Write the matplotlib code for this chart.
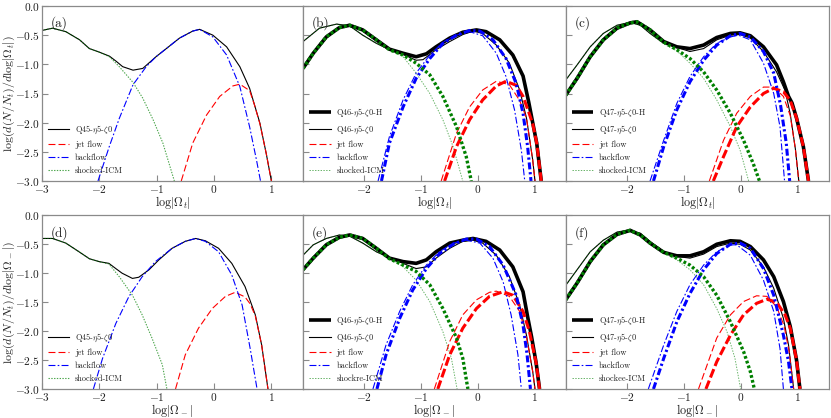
import matplotlib
matplotlib.use("Agg")
import matplotlib.pyplot as plt

# ---------------- data ----------------
# Panel (a): log|Omega_t|, Q45
a_total = [(-3.0,-0.42),(-2.81,-0.38),(-2.58,-0.44),(-2.34,-0.58),(-2.17,-0.73),(-2.0,-0.79),(-1.82,-0.86),(-1.70,-0.95),(-1.59,-1.04),(-1.41,-1.10),(-1.24,-1.07),(-1.01,-0.87),(-0.83,-0.73),(-0.60,-0.55),(-0.37,-0.43),(-0.25,-0.40),(-0.02,-0.50),(0.22,-0.70),(0.45,-1.04),(0.62,-1.41),(0.80,-2.01),(0.91,-2.53),(1.0,-3.0)]
a_jet = [(-0.57,-3.0),(-0.37,-2.35),(-0.13,-1.87),(0.10,-1.55),(0.33,-1.37),(0.45,-1.34),(0.62,-1.45),(0.70,-1.68),(0.80,-2.02),(0.91,-2.53),(1.0,-3.0)]
a_back = [(-2.02,-3.0),(-1.82,-2.40),(-1.65,-1.93),(-1.41,-1.35),(-1.18,-1.04),(-1.01,-0.87),(-0.83,-0.73),(-0.60,-0.55),(-0.37,-0.43),(-0.25,-0.40),(-0.02,-0.53),(0.22,-0.84),(0.45,-1.38),(0.62,-2.07),(0.74,-2.64),(0.81,-3.0)]
a_icm = [(-3.0,-0.42),(-2.81,-0.38),(-2.58,-0.44),(-2.34,-0.58),(-2.17,-0.73),(-2.0,-0.79),(-1.82,-0.87),(-1.65,-1.04),(-1.41,-1.31),(-1.24,-1.58),(-1.06,-1.95),(-0.89,-2.35),(-0.69,-3.0)]

# Panel (b): Q46
b_tot_H = [(-3.07,-1.07),(-2.89,-0.81),(-2.66,-0.53),(-2.43,-0.37),(-2.25,-0.33),(-2.02,-0.41),(-1.78,-0.58),(-1.55,-0.74),(-1.31,-0.81),(-1.08,-0.87),(-0.90,-0.82),(-0.73,-0.70),(-0.49,-0.55),(-0.26,-0.45),(-0.02,-0.41),(0.15,-0.44),(0.39,-0.58),(0.62,-0.84),(0.80,-1.20),(0.90,-1.65),(0.97,-2.0),(1.04,-2.35),(1.12,-3.0)]
b_tot = [(-3.07,-0.61),(-2.78,-0.38),(-2.48,-0.31),(-2.25,-0.34),(-2.02,-0.50),(-1.78,-0.64),(-1.55,-0.75),(-1.31,-0.83),(-1.08,-0.93),(-0.96,-0.92),(-0.73,-0.75),(-0.49,-0.61),(-0.26,-0.49),(-0.08,-0.43),(0.09,-0.47),(0.33,-0.67),(0.56,-0.98),(0.74,-1.44),(0.86,-1.92),(0.97,-2.64),(1.01,-3.0)]
b_jet = [(-0.64,-3.0),(-0.37,-2.18),(-0.14,-1.73),(0.09,-1.44),(0.33,-1.29),(0.56,-1.35),(0.74,-1.62),(0.86,-1.92),(0.97,-2.64),(1.01,-3.0)]
b_jet_H = [(-0.58,-3.0),(-0.37,-2.41),(-0.14,-1.95),(0.09,-1.61),(0.33,-1.37),(0.50,-1.29),(0.68,-1.36),(0.80,-1.55),(0.90,-1.82),(0.97,-2.02),(1.04,-2.35),(1.12,-3.0)]
b_back = [(-1.75,-3.0),(-1.55,-2.24),(-1.31,-1.61),(-1.08,-1.15),(-0.84,-0.84),(-0.61,-0.62),(-0.37,-0.50),(-0.14,-0.44),(0.09,-0.51),(0.33,-0.81),(0.50,-1.21),(0.65,-1.78),(0.77,-2.47),(0.83,-3.0)]
b_back_H = [(-1.69,-3.0),(-1.55,-2.35),(-1.31,-1.73),(-1.08,-1.24),(-0.84,-0.90),(-0.61,-0.64),(-0.37,-0.50),(-0.14,-0.42),(0.04,-0.43),(0.27,-0.58),(0.50,-0.90),(0.68,-1.33),(0.80,-1.84),(0.88,-2.41),(0.94,-3.0)]
b_icm = [(-3.07,-0.61),(-2.78,-0.38),(-2.48,-0.31),(-2.25,-0.34),(-2.02,-0.50),(-1.78,-0.64),(-1.55,-0.75),(-1.31,-0.87),(-1.08,-1.15),(-0.84,-1.50),(-0.61,-1.95),(-0.43,-2.41),(-0.26,-3.0)]
b_icm_H = [(-3.07,-1.07),(-2.89,-0.81),(-2.66,-0.53),(-2.43,-0.37),(-2.25,-0.33),(-2.02,-0.41),(-1.78,-0.58),(-1.55,-0.75),(-1.31,-0.84),(-1.08,-0.98),(-0.84,-1.18),(-0.61,-1.55),(-0.37,-2.07),(-0.20,-2.58),(-0.11,-3.0)]

# Panel (c): Q47
c_tot_H = [(-3.07,-1.53),(-2.87,-1.24),(-2.64,-0.87),(-2.41,-0.58),(-2.17,-0.38),(-1.94,-0.29),(-1.82,-0.27),(-1.59,-0.41),(-1.35,-0.61),(-1.12,-0.70),(-0.89,-0.73),(-0.65,-0.67),(-0.42,-0.54),(-0.18,-0.47),(-0.01,-0.46),(0.17,-0.51),(0.40,-0.70),(0.63,-1.01),(0.75,-1.30),(0.84,-1.55),(0.90,-1.66),(0.98,-1.92),(1.10,-2.41),(1.19,-3.0)]
c_tot = [(-3.07,-1.27),(-2.87,-1.01),(-2.64,-0.70),(-2.41,-0.47),(-2.17,-0.33),(-1.94,-0.28),(-1.76,-0.33),(-1.59,-0.47),(-1.35,-0.64),(-1.12,-0.71),(-0.89,-0.78),(-0.65,-0.73),(-0.42,-0.58),(-0.18,-0.50),(-0.01,-0.49),(0.17,-0.55),(0.40,-0.78),(0.63,-1.13),(0.78,-1.45),(0.87,-1.85),(0.96,-2.45),(1.02,-3.0)]
c_jet = [(-0.55,-3.0),(-0.30,-2.30),(-0.07,-1.84),(0.17,-1.55),(0.40,-1.39),(0.58,-1.39),(0.75,-1.55),(0.87,-1.88),(0.96,-2.45),(1.02,-3.0)]
c_jet_H = [(-0.48,-3.0),(-0.30,-2.58),(-0.07,-2.07),(0.17,-1.73),(0.40,-1.50),(0.58,-1.41),(0.75,-1.47),(0.87,-1.62),(0.98,-1.92),(1.10,-2.41),(1.19,-3.0)]
c_back = [(-1.59,-3.0),(-1.35,-2.30),(-1.12,-1.67),(-0.89,-1.21),(-0.65,-0.87),(-0.42,-0.64),(-0.18,-0.53),(-0.04,-0.50),(0.17,-0.58),(0.40,-0.98),(0.58,-1.50),(0.69,-2.07),(0.77,-3.0)]
c_back_H = [(-1.53,-3.0),(-1.35,-2.41),(-1.12,-1.78),(-0.89,-1.30),(-0.65,-0.93),(-0.42,-0.67),(-0.18,-0.51),(-0.01,-0.47),(0.17,-0.53),(0.40,-0.78),(0.58,-1.15),(0.70,-1.70),(0.80,-2.35),(0.86,-3.0)]
c_icm = [(-3.07,-1.27),(-2.87,-1.01),(-2.64,-0.70),(-2.41,-0.47),(-2.17,-0.33),(-1.94,-0.28),(-1.76,-0.33),(-1.59,-0.47),(-1.35,-0.65),(-1.12,-0.77),(-0.89,-0.98),(-0.65,-1.24),(-0.42,-1.61),(-0.18,-2.07),(-0.01,-2.47),(0.14,-3.0)]
c_icm_H = [(-3.07,-1.53),(-2.87,-1.24),(-2.64,-0.87),(-2.41,-0.58),(-2.17,-0.38),(-1.94,-0.29),(-1.82,-0.27),(-1.59,-0.41),(-1.35,-0.62),(-1.12,-0.75),(-0.89,-0.90),(-0.65,-1.13),(-0.42,-1.44),(-0.18,-1.84),(0.05,-2.30),(0.22,-2.70),(0.33,-3.0)]

# Panel (d): log|Omega_-|, Q45
d_total = [(-3.0,-0.40),(-2.81,-0.40),(-2.58,-0.48),(-2.35,-0.63),(-2.17,-0.75),(-2.0,-0.80),(-1.83,-0.83),(-1.71,-0.92),(-1.60,-1.00),(-1.42,-1.09),(-1.31,-1.07),(-1.13,-0.94),(-0.96,-0.77),(-0.73,-0.57),(-0.50,-0.45),(-0.32,-0.40),(-0.15,-0.44),(0.08,-0.57),(0.31,-0.83),(0.54,-1.23),(0.72,-1.72),(0.83,-2.24),(0.94,-3.0)]
d_jet = [(-0.67,-3.0),(-0.50,-2.41),(-0.27,-1.95),(-0.03,-1.61),(0.20,-1.40),(0.37,-1.33),(0.54,-1.41),(0.63,-1.53),(0.72,-1.74),(0.83,-2.24),(0.94,-3.0)]
d_back = [(-2.10,-3.0),(-1.94,-2.47),(-1.71,-1.87),(-1.48,-1.40),(-1.25,-1.06),(-1.02,-0.80),(-0.73,-0.57),(-0.50,-0.45),(-0.32,-0.40),(-0.15,-0.45),(0.08,-0.63),(0.31,-1.03),(0.49,-1.55),(0.63,-2.30),(0.75,-3.0)]
d_icm = [(-3.0,-0.40),(-2.81,-0.40),(-2.58,-0.48),(-2.35,-0.63),(-2.17,-0.75),(-2.0,-0.80),(-1.83,-0.84),(-1.65,-1.06),(-1.42,-1.38),(-1.25,-1.72),(-1.08,-2.12),(-0.90,-2.58),(-0.82,-3.0)]

# Panel (e): Q46
e_tot_H = [(-3.07,-0.94),(-2.89,-0.74),(-2.66,-0.51),(-2.43,-0.38),(-2.25,-0.34),(-2.02,-0.40),(-1.78,-0.57),(-1.55,-0.74),(-1.31,-0.80),(-1.08,-0.83),(-0.90,-0.77),(-0.73,-0.63),(-0.49,-0.48),(-0.26,-0.43),(-0.08,-0.40),(0.15,-0.45),(0.39,-0.60),(0.62,-0.89),(0.80,-1.32),(0.88,-1.75),(0.95,-2.10),(1.03,-2.55),(1.09,-3.0)]
e_tot = [(-3.07,-0.69),(-2.89,-0.51),(-2.66,-0.40),(-2.43,-0.34),(-2.25,-0.36),(-2.02,-0.48),(-1.78,-0.63),(-1.55,-0.73),(-1.31,-0.83),(-1.08,-0.92),(-0.90,-0.89),(-0.73,-0.74),(-0.49,-0.57),(-0.26,-0.45),(-0.08,-0.43),(0.09,-0.48),(0.33,-0.69),(0.56,-1.06),(0.74,-1.55),(0.86,-2.07),(0.97,-2.70),(1.01,-3.0)]
e_jet = [(-0.76,-3.0),(-0.49,-2.18),(-0.26,-1.72),(-0.02,-1.46),(0.21,-1.33),(0.33,-1.31),(0.56,-1.40),(0.74,-1.66),(0.86,-2.10),(0.97,-2.70),(1.01,-3.0)]
e_jet_H = [(-0.70,-3.0),(-0.49,-2.41),(-0.26,-1.95),(-0.02,-1.61),(0.21,-1.40),(0.45,-1.32),(0.62,-1.38),(0.80,-1.66),(0.91,-2.0),(1.03,-2.55),(1.09,-3.0)]
e_back = [(-1.84,-3.0),(-1.61,-2.24),(-1.37,-1.66),(-1.14,-1.20),(-0.90,-0.86),(-0.67,-0.63),(-0.43,-0.48),(-0.20,-0.43),(0.04,-0.48),(0.27,-0.74),(0.45,-1.15),(0.59,-1.72),(0.71,-2.41),(0.77,-3.0)]
e_back_H = [(-1.77,-3.0),(-1.61,-2.41),(-1.37,-1.78),(-1.14,-1.29),(-0.90,-0.92),(-0.67,-0.66),(-0.43,-0.50),(-0.20,-0.41),(-0.02,-0.41),(0.21,-0.54),(0.45,-0.86),(0.68,-1.38),(0.80,-1.90),(0.87,-2.40),(0.93,-3.0)]
e_icm = [(-3.07,-0.69),(-2.89,-0.51),(-2.66,-0.40),(-2.43,-0.34),(-2.25,-0.36),(-2.02,-0.48),(-1.78,-0.63),(-1.55,-0.73),(-1.31,-0.89),(-1.08,-1.12),(-0.84,-1.49),(-0.61,-2.01),(-0.46,-2.47),(-0.36,-3.0)]
e_icm_H = [(-3.07,-0.94),(-2.89,-0.74),(-2.66,-0.51),(-2.43,-0.38),(-2.25,-0.34),(-2.02,-0.40),(-1.78,-0.57),(-1.55,-0.75),(-1.31,-0.86),(-1.08,-0.97),(-0.84,-1.20),(-0.61,-1.61),(-0.37,-2.12),(-0.26,-2.47),(-0.17,-3.0)]

# Panel (f): Q47
f_tot_H = [(-3.07,-1.46),(-2.87,-1.17),(-2.64,-0.80),(-2.41,-0.51),(-2.17,-0.33),(-1.94,-0.26),(-1.76,-0.34),(-1.59,-0.48),(-1.35,-0.64),(-1.12,-0.70),(-0.89,-0.70),(-0.65,-0.63),(-0.42,-0.50),(-0.18,-0.44),(-0.01,-0.45),(0.17,-0.54),(0.40,-0.77),(0.58,-1.06),(0.75,-1.49),(0.87,-1.92),(0.98,-2.50),(1.04,-3.0)]
f_tot = [(-3.07,-1.21),(-2.87,-0.94),(-2.64,-0.63),(-2.41,-0.43),(-2.17,-0.29),(-2.0,-0.26),(-1.76,-0.31),(-1.59,-0.45),(-1.35,-0.63),(-1.12,-0.71),(-0.89,-0.74),(-0.65,-0.67),(-0.42,-0.54),(-0.18,-0.48),(-0.01,-0.50),(0.17,-0.60),(0.40,-0.89),(0.58,-1.26),(0.75,-1.78),(0.84,-2.24),(0.93,-3.0)]
f_jet = [(-0.74,-3.0),(-0.42,-2.12),(-0.18,-1.72),(0.05,-1.49),(0.28,-1.39),(0.46,-1.40),(0.63,-1.58),(0.76,-1.90),(0.85,-2.35),(0.93,-3.0)]
f_jet_H = [(-0.61,-3.0),(-0.42,-2.53),(-0.18,-2.07),(0.05,-1.72),(0.28,-1.52),(0.46,-1.45),(0.63,-1.50),(0.78,-1.72),(0.87,-1.95),(0.98,-2.50),(1.04,-3.0)]
f_back = [(-1.62,-3.0),(-1.35,-2.24),(-1.12,-1.66),(-0.89,-1.20),(-0.65,-0.86),(-0.42,-0.63),(-0.18,-0.51),(-0.07,-0.51),(0.17,-0.69),(0.40,-1.12),(0.58,-1.66),(0.69,-2.30),(0.75,-3.0)]
f_back_H = [(-1.53,-3.0),(-1.35,-2.47),(-1.12,-1.84),(-0.89,-1.35),(-0.65,-0.94),(-0.42,-0.66),(-0.18,-0.50),(-0.01,-0.48),(0.17,-0.57),(0.40,-0.92),(0.58,-1.38),(0.75,-2.07),(0.84,-2.53),(0.90,-3.0)]
f_icm = [(-3.07,-1.21),(-2.87,-0.94),(-2.64,-0.63),(-2.41,-0.43),(-2.17,-0.29),(-2.0,-0.26),(-1.76,-0.31),(-1.59,-0.45),(-1.35,-0.63),(-1.12,-0.77),(-0.89,-0.94),(-0.65,-1.20),(-0.42,-1.61),(-0.24,-2.01),(-0.10,-2.47),(0.0,-3.0)]
f_icm_H = [(-3.07,-1.46),(-2.87,-1.17),(-2.64,-0.80),(-2.41,-0.51),(-2.17,-0.33),(-1.94,-0.26),(-1.76,-0.34),(-1.59,-0.48),(-1.35,-0.64),(-1.12,-0.74),(-0.89,-0.86),(-0.65,-1.06),(-0.42,-1.38),(-0.18,-1.84),(0.05,-2.35),(0.17,-2.70),(0.24,-3.0)]

panel_letters = ["(a)", "(b)", "(c)", "(d)", "(e)", "(f)"]
yticks = [0.0, -0.5, -1.0, -1.5, -2.0, -2.5, -3.0]
xticks_first = [-3, -2, -1, 0, 1]
xticks_other = [-2, -1, 0, 1]
icm_label_top = "shocked-ICM"
icm_label_e = "shockre-ICM"
icm_label_f = "shockee-ICM"

# ---------------- style ----------------
plt.rcParams["font.family"] = ["cmr10", "DejaVu Serif"]
plt.rcParams["mathtext.fontset"] = "cm"
plt.rcParams["axes.unicode_minus"] = False
plt.rcParams["lines.scale_dashes"] = False

SPINE = "#8a8a8a"
TXT = "#222222"
fig = plt.figure(figsize=(8.31, 4.18), dpi=100)
W, H = 831.0, 418.0
lefts = [41.7, 303.0, 565.7]
widths = [261.3, 262.7, 263.3]
row_top = (6.0, 181.0)
row_bot = (215.3, 389.0)

def xy(pts):
    return [p[0] for p in pts], [p[1] for p in pts]

def fmt(v, nd):
    s = f"{abs(v):.{nd}f}"
    return f"$-{s}$" if v < 0 else f"${s}$"

def make_ax(col, row):
    t, b = row
    ax = fig.add_axes([lefts[col] / W, 1 - b / H, widths[col] / W, (b - t) / H])
    for s in ax.spines.values():
        s.set_color(SPINE)
        s.set_linewidth(0.9)
    ax.tick_params(direction="in", length=4, width=0.8, color=SPINE,
                   labelsize=8.2, pad=1.5, labelcolor=TXT)
    ax.set_ylim(-3.0, 0.0)
    ax.set_yticks(yticks)
    if col == 0:
        ax.set_xlim(-3.0, 1.55)
        ax.set_xticks(xticks_first)
        ax.set_xticklabels([fmt(v, 0) for v in xticks_first])
        ax.set_yticklabels([fmt(v, 1) for v in yticks])
    else:
        ax.set_xlim(-3.07, 1.55)
        ax.set_xticks(xticks_other)
        ax.set_xticklabels([fmt(v, 0) for v in xticks_other])
        ax.set_yticklabels([])
    return ax

RED_D = (0, (5, 2.2))
RED_DH = (0, (6.5, 2.4))
BLU_D = (0, (5, 1.6, 1.2, 1.6))
BLU_DH = (0, (5, 2.0, 1.6, 2.0))
GRN_D = (0, (1.0, 1.0))
GRN_DH = (0, (2.0, 1.6))

def single_panel(ax, total, jet, back, icm, name):
    ax.plot(*xy(total), color="k", lw=0.8, label=name)
    ax.plot(*xy(jet), color="r", lw=0.8, ls=RED_D, label="jet flow")
    ax.plot(*xy(back), color="b", lw=0.8, ls=BLU_D, label="backflow")
    ax.plot(*xy(icm), color="g", lw=0.8, ls=GRN_D, alpha=0.7, label="shocked-ICM")

def double_panel(ax, totH, tot, jet, jetH, back, backH, icm, icmH, name, icm_label):
    ax.plot(*xy(totH), color="k", lw=2.6, solid_capstyle="butt", label=name + "-H")
    ax.plot(*xy(tot), color="k", lw=0.8, label=name)
    ax.plot(*xy(jet), color="r", lw=0.8, ls=RED_D, label="jet flow")
    ax.plot(*xy(back), color="b", lw=0.8, ls=BLU_D, label="backflow")
    ax.plot(*xy(icm), color="g", lw=0.7, ls=GRN_D, alpha=0.6, label=icm_label)
    ax.plot(*xy(jetH), color="r", lw=2.2, ls=RED_DH)
    ax.plot(*xy(backH), color="b", lw=2.2, ls=BLU_DH)
    ax.plot(*xy(icmH), color="g", lw=2.4, ls=GRN_DH, dash_capstyle="butt")

def add_legend(ax):
    leg = ax.legend(loc="lower left", frameon=False, fontsize=6, handlelength=2.6,
                    handletextpad=0.7, labelspacing=0.55, borderaxespad=0.3)
    for t in leg.get_texts():
        t.set_color(TXT)

def letter(ax, s):
    ax.text(0.035, 0.94, s, transform=ax.transAxes, fontsize=9.5, va="top",
            ha="left", color=TXT)

ylab_t = r"$\log(d(N/N_t)/d\log|\Omega_t|)$"
ylab_m = r"$\log(d(N/N_t)/d\log|\Omega_-|)$"
xlab_t = r"$\log|\Omega_t|$"
xlab_m = r"$\log|\Omega_-|$"

name45 = r"Q45-$\eta$5-$\zeta$0"
name46 = r"Q46-$\eta$5-$\zeta$0"
name47 = r"Q47-$\eta$5-$\zeta$0"

def xlabel(ax, s):
    ax.set_xlabel(s, fontsize=8.7, labelpad=-0.6, color=TXT)

def ylabel(ax, s):
    ax.set_ylabel(s, fontsize=8.6, color=TXT)
    ax.yaxis.set_label_coords(-0.096, 0.5)

# top row
ax = make_ax(0, row_top)
single_panel(ax, a_total, a_jet, a_back, a_icm, name45)
add_legend(ax); letter(ax, panel_letters[0])
ylabel(ax, ylab_t); xlabel(ax, xlab_t)

ax = make_ax(1, row_top)
double_panel(ax, b_tot_H, b_tot, b_jet, b_jet_H, b_back, b_back_H, b_icm, b_icm_H, name46, icm_label_top)
add_legend(ax); letter(ax, panel_letters[1])
xlabel(ax, xlab_t)

ax = make_ax(2, row_top)
double_panel(ax, c_tot_H, c_tot, c_jet, c_jet_H, c_back, c_back_H, c_icm, c_icm_H, name47, icm_label_top)
add_legend(ax); letter(ax, panel_letters[2])
xlabel(ax, xlab_t)

# bottom row
ax = make_ax(0, row_bot)
single_panel(ax, d_total, d_jet, d_back, d_icm, name45)
add_legend(ax); letter(ax, panel_letters[3])
ylabel(ax, ylab_m); xlabel(ax, xlab_m)

ax = make_ax(1, row_bot)
double_panel(ax, e_tot_H, e_tot, e_jet, e_jet_H, e_back, e_back_H, e_icm, e_icm_H, name46, icm_label_e)
add_legend(ax); letter(ax, panel_letters[4])
xlabel(ax, xlab_m)

ax = make_ax(2, row_bot)
double_panel(ax, f_tot_H, f_tot, f_jet, f_jet_H, f_back, f_back_H, f_icm, f_icm_H, name47, icm_label_f)
add_legend(ax); letter(ax, panel_letters[5])
xlabel(ax, xlab_m)

fig.savefig("out.png", dpi=100)
